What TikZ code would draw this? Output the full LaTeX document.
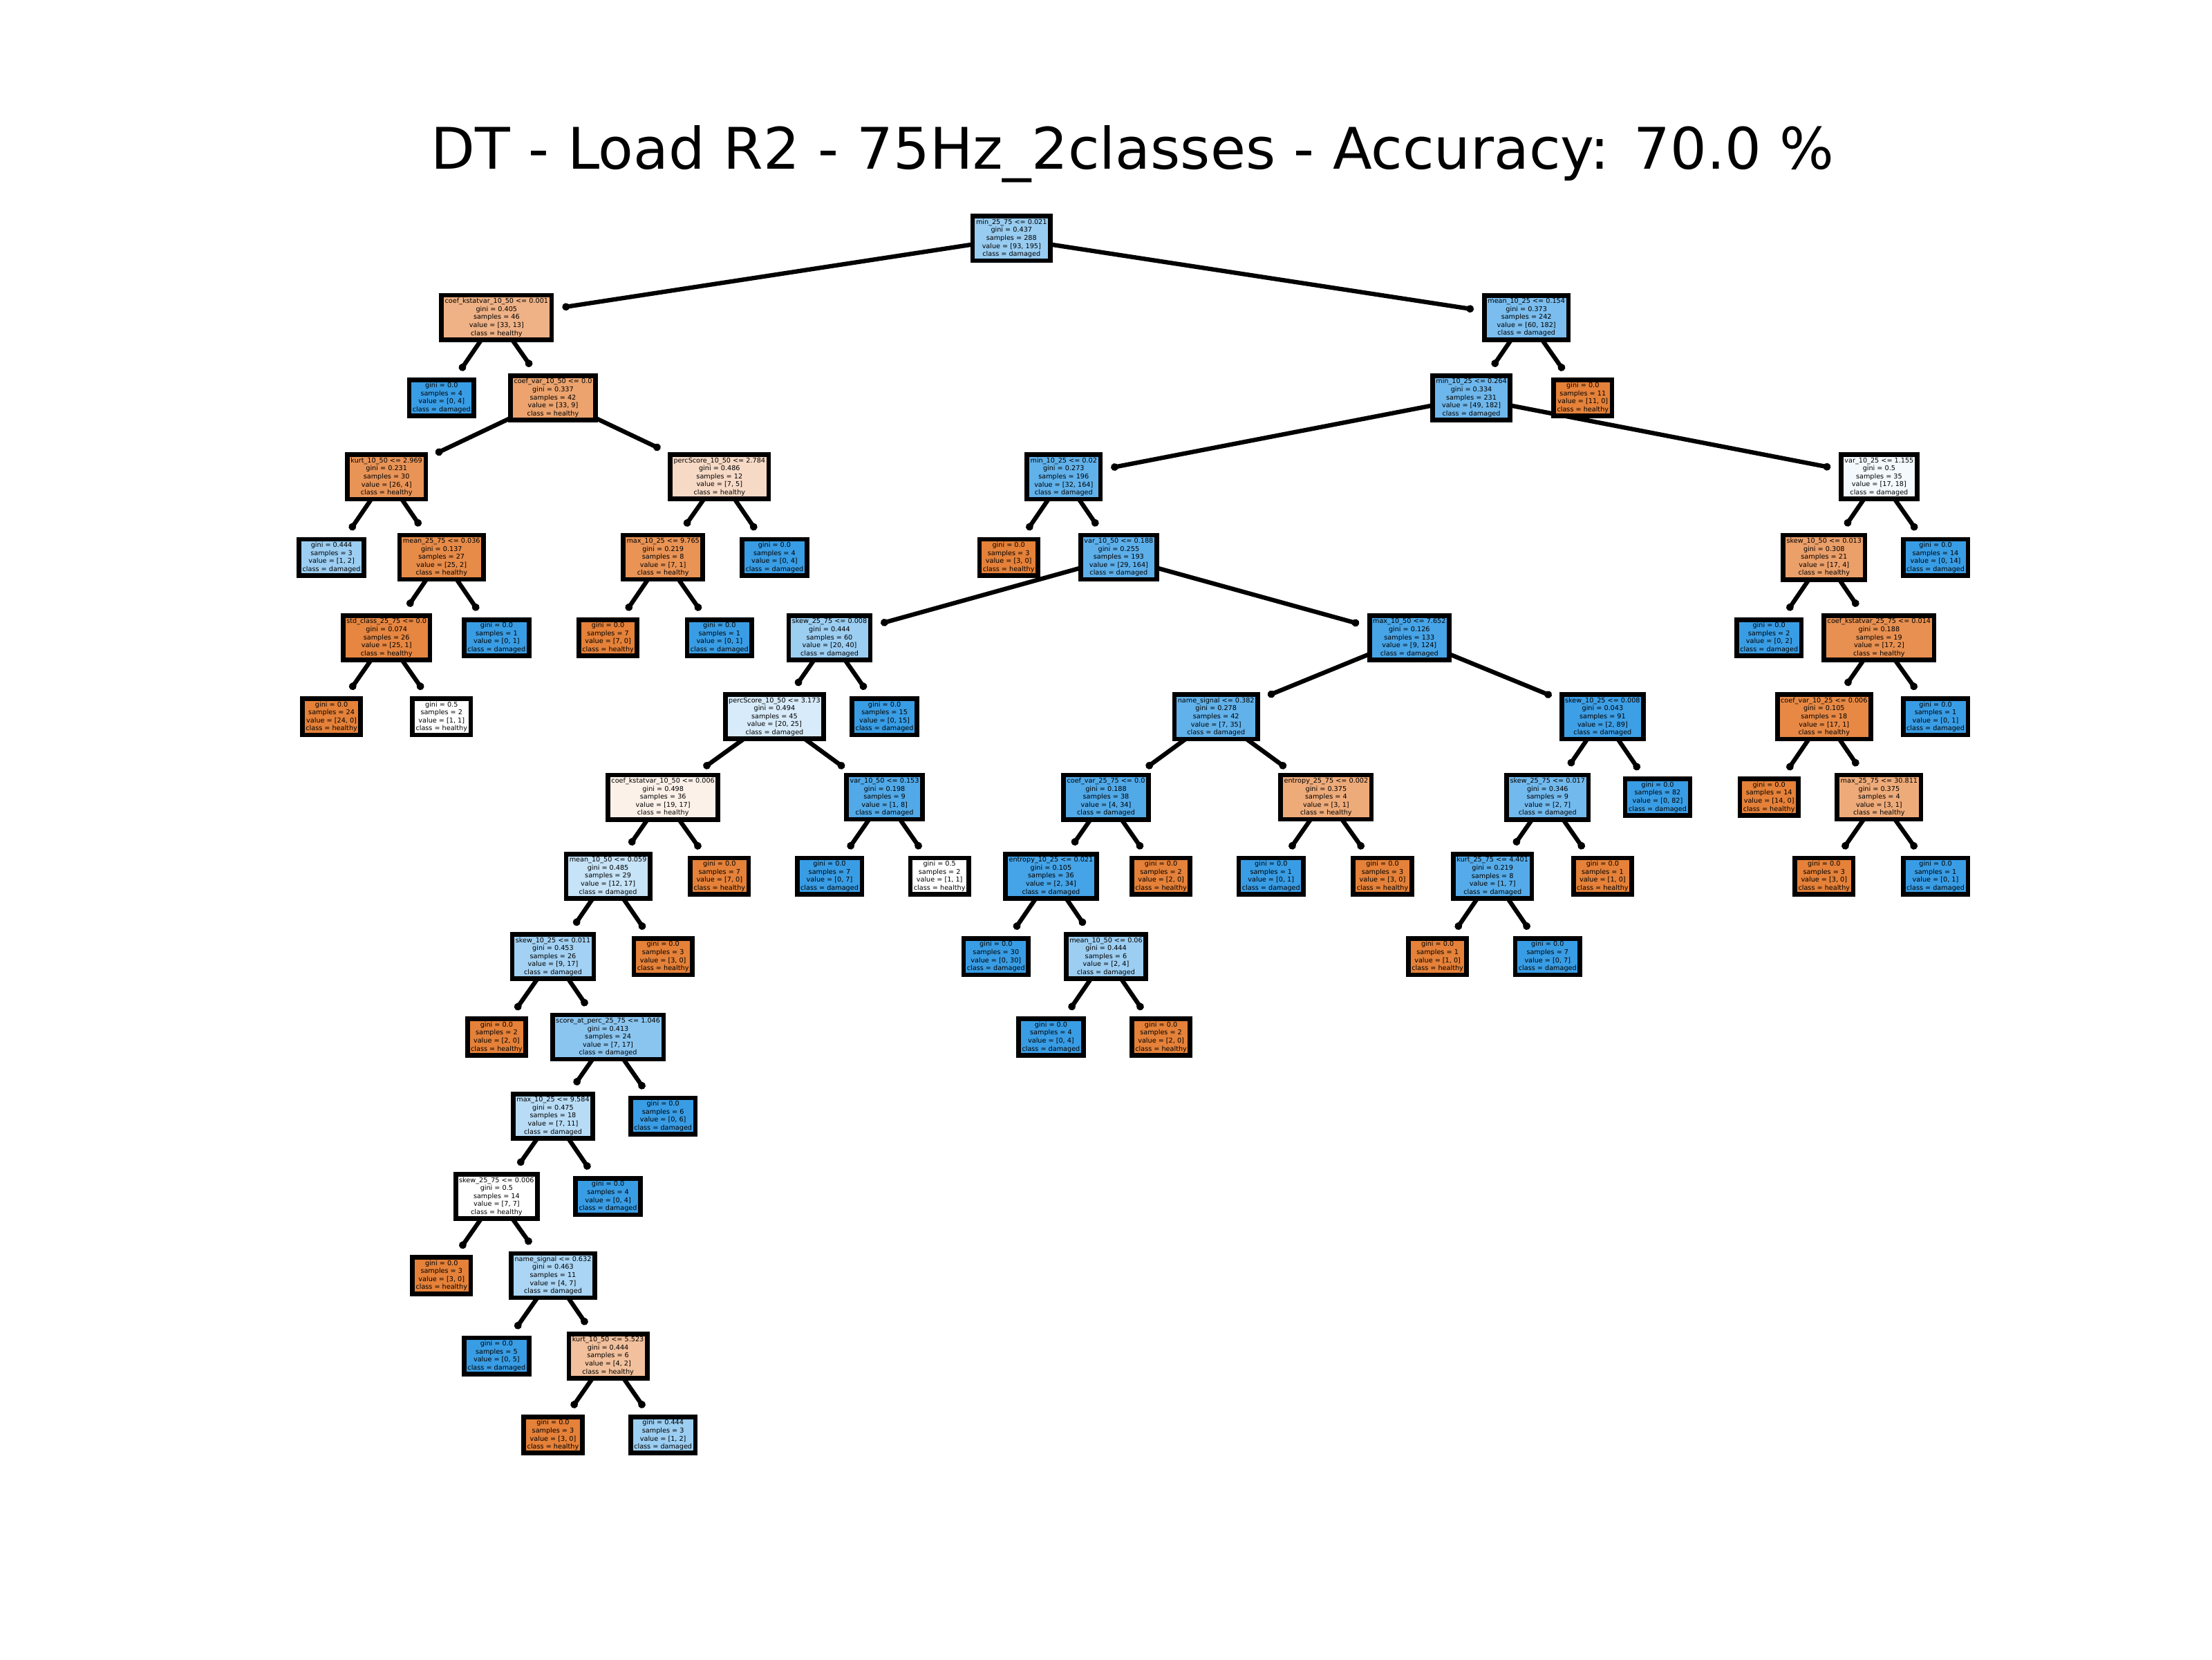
\documentclass[tikz,border=0pt]{standalone}
\usepackage{fontspec}
\setmainfont{DejaVu Sans}
\usetikzlibrary{arrows.meta,backgrounds}
\definecolor{healthy}{HTML}{E58139}
\definecolor{damaged}{HTML}{399DE5}
\begin{document}
\begin{tikzpicture}[x=0.204082mm,y=-0.204082mm,
	tn/.style={draw,line width=1.9pt,line join=miter,inner xsep=1.4pt,inner ysep=1.2pt,align=center,font=\fontsize{2.75}{3.3}\selectfont},
	link/.style={line width=1.8pt,line cap=round,-{Circle[length=3pt]},shorten >=3.5pt}]
	\useasboundingbox (0,0) rectangle (1568,1176);
	\node[anchor=base,font=\fontsize{23.6}{28}\selectfont] (title) at (803,120) {DT - Load R2 - 75Hz\_2classes - Accuracy: 70.0 \%};
	% left part of the tree
	\node[tn,fill=damaged!52] (n0) at (717,169) {min\_25\_75 <= 0.021\\gini = 0.437\\samples = 288\\value = [93, 195]\\class = damaged};
	\node[tn,fill=healthy!61] (n1) at (352,225) {coef\_kstatvar\_10\_50 <= 0.001\\gini = 0.405\\samples = 46\\value = [33, 13]\\class = healthy};
	\node[tn,fill=damaged] (n2) at (313,282) {gini = 0.0\\samples = 4\\value = [0, 4]\\class = damaged};
	\node[tn,fill=healthy!73] (n3) at (392,282) {coef\_var\_10\_50 <= 0.0\\gini = 0.337\\samples = 42\\value = [33, 9]\\class = healthy};
	\node[tn,fill=healthy!85] (n4) at (274,338) {kurt\_10\_50 <= 2.969\\gini = 0.231\\samples = 30\\value = [26, 4]\\class = healthy};
	\node[tn,fill=damaged!50] (n5) at (235,395) {gini = 0.444\\samples = 3\\value = [1, 2]\\class = damaged};
	\node[tn,fill=healthy!92] (n6) at (313,395) {mean\_25\_75 <= 0.036\\gini = 0.137\\samples = 27\\value = [25, 2]\\class = healthy};
	\node[tn,fill=healthy!96] (n7) at (274,452) {std\_class\_25\_75 <= 0.0\\gini = 0.074\\samples = 26\\value = [25, 1]\\class = healthy};
	\node[tn,fill=healthy] (n8) at (235,508) {gini = 0.0\\samples = 24\\value = [24, 0]\\class = healthy};
	\node[tn,fill=white] (n9) at (313,508) {gini = 0.5\\samples = 2\\value = [1, 1]\\class = healthy};
	\node[tn,fill=damaged] (n10) at (352,452) {gini = 0.0\\samples = 1\\value = [0, 1]\\class = damaged};
	\node[tn,fill=healthy!29] (n11) at (510,338) {percScore\_10\_50 <= 2.784\\gini = 0.486\\samples = 12\\value = [7, 5]\\class = healthy};
	\node[tn,fill=healthy!86] (n12) at (470,395) {max\_10\_25 <= 9.765\\gini = 0.219\\samples = 8\\value = [7, 1]\\class = healthy};
	\node[tn,fill=healthy] (n13) at (431,452) {gini = 0.0\\samples = 7\\value = [7, 0]\\class = healthy};
	\node[tn,fill=damaged] (n14) at (510,452) {gini = 0.0\\samples = 1\\value = [0, 1]\\class = damaged};
	\node[tn,fill=damaged] (n15) at (549,395) {gini = 0.0\\samples = 4\\value = [0, 4]\\class = damaged};
	% right part of the tree
	\node[tn,fill=damaged!67] (n16) at (1082,225) {mean\_10\_25 <= 0.154\\gini = 0.373\\samples = 242\\value = [60, 182]\\class = damaged};
	\node[tn,fill=damaged!73] (n17) at (1043,282) {min\_10\_25 <= 0.264\\gini = 0.334\\samples = 231\\value = [49, 182]\\class = damaged};
	\node[tn,fill=damaged!80] (n18) at (754,338) {min\_10\_25 <= 0.02\\gini = 0.273\\samples = 196\\value = [32, 164]\\class = damaged};
	\node[tn,fill=healthy] (n19) at (715,395) {gini = 0.0\\samples = 3\\value = [3, 0]\\class = healthy};
	\node[tn,fill=damaged!82] (n20) at (793,395) {var\_10\_50 <= 0.188\\gini = 0.255\\samples = 193\\value = [29, 164]\\class = damaged};
	\node[tn,fill=damaged!50] (n21) at (588,452) {skew\_25\_75 <= 0.008\\gini = 0.444\\samples = 60\\value = [20, 40]\\class = damaged};
	\node[tn,fill=damaged!20] (n22) at (549,508) {percScore\_10\_50 <= 3.173\\gini = 0.494\\samples = 45\\value = [20, 25]\\class = damaged};
	\node[tn,fill=healthy!11] (n23) at (470,565) {coef\_kstatvar\_10\_50 <= 0.006\\gini = 0.498\\samples = 36\\value = [19, 17]\\class = healthy};
	\node[tn,fill=damaged!29] (n24) at (431,621) {mean\_10\_50 <= 0.059\\gini = 0.485\\samples = 29\\value = [12, 17]\\class = damaged};
	\node[tn,fill=damaged!47] (n25) at (392,678) {skew\_10\_25 <= 0.011\\gini = 0.453\\samples = 26\\value = [9, 17]\\class = damaged};
	\node[tn,fill=healthy] (n26) at (352,735) {gini = 0.0\\samples = 2\\value = [2, 0]\\class = healthy};
	\node[tn,fill=damaged!59] (n27) at (431,735) {score\_at\_perc\_25\_75 <= 1.046\\gini = 0.413\\samples = 24\\value = [7, 17]\\class = damaged};
	\node[tn,fill=damaged!36] (n28) at (392,791) {max\_10\_25 <= 9.584\\gini = 0.475\\samples = 18\\value = [7, 11]\\class = damaged};
	\node[tn,fill=white] (n29) at (352,848) {skew\_25\_75 <= 0.006\\gini = 0.5\\samples = 14\\value = [7, 7]\\class = healthy};
	\node[tn,fill=healthy] (n30) at (313,904) {gini = 0.0\\samples = 3\\value = [3, 0]\\class = healthy};
	\node[tn,fill=damaged!43] (n31) at (392,904) {name\_signal <= 0.632\\gini = 0.463\\samples = 11\\value = [4, 7]\\class = damaged};
	\node[tn,fill=damaged] (n32) at (352,961) {gini = 0.0\\samples = 5\\value = [0, 5]\\class = damaged};
	\node[tn,fill=healthy!50] (n33) at (431,961) {kurt\_10\_50 <= 5.523\\gini = 0.444\\samples = 6\\value = [4, 2]\\class = healthy};
	\node[tn,fill=healthy] (n34) at (392,1017) {gini = 0.0\\samples = 3\\value = [3, 0]\\class = healthy};
	\node[tn,fill=damaged!50] (n35) at (470,1017) {gini = 0.444\\samples = 3\\value = [1, 2]\\class = damaged};
	\node[tn,fill=damaged] (n36) at (431,848) {gini = 0.0\\samples = 4\\value = [0, 4]\\class = damaged};
	\node[tn,fill=damaged] (n37) at (470,791) {gini = 0.0\\samples = 6\\value = [0, 6]\\class = damaged};
	\node[tn,fill=healthy] (n38) at (470,678) {gini = 0.0\\samples = 3\\value = [3, 0]\\class = healthy};
	\node[tn,fill=healthy] (n39) at (510,621) {gini = 0.0\\samples = 7\\value = [7, 0]\\class = healthy};
	\node[tn,fill=damaged!88] (n40) at (627,565) {var\_10\_50 <= 0.153\\gini = 0.198\\samples = 9\\value = [1, 8]\\class = damaged};
	\node[tn,fill=damaged] (n41) at (588,621) {gini = 0.0\\samples = 7\\value = [0, 7]\\class = damaged};
	\node[tn,fill=white] (n42) at (666,621) {gini = 0.5\\samples = 2\\value = [1, 1]\\class = healthy};
	\node[tn,fill=damaged] (n43) at (627,508) {gini = 0.0\\samples = 15\\value = [0, 15]\\class = damaged};
	\node[tn,fill=damaged!93] (n44) at (999,452) {max\_10\_50 <= 7.652\\gini = 0.126\\samples = 133\\value = [9, 124]\\class = damaged};
	\node[tn,fill=damaged!80] (n45) at (862,508) {name\_signal <= 0.382\\gini = 0.278\\samples = 42\\value = [7, 35]\\class = damaged};
	\node[tn,fill=damaged!88] (n46) at (784,565) {coef\_var\_25\_75 <= 0.0\\gini = 0.188\\samples = 38\\value = [4, 34]\\class = damaged};
	\node[tn,fill=damaged!94] (n47) at (745,621) {entropy\_10\_25 <= 0.021\\gini = 0.105\\samples = 36\\value = [2, 34]\\class = damaged};
	\node[tn,fill=damaged] (n48) at (706,678) {gini = 0.0\\samples = 30\\value = [0, 30]\\class = damaged};
	\node[tn,fill=damaged!50] (n49) at (784,678) {mean\_10\_50 <= 0.06\\gini = 0.444\\samples = 6\\value = [2, 4]\\class = damaged};
	\node[tn,fill=damaged] (n50) at (745,735) {gini = 0.0\\samples = 4\\value = [0, 4]\\class = damaged};
	\node[tn,fill=healthy] (n51) at (823,735) {gini = 0.0\\samples = 2\\value = [2, 0]\\class = healthy};
	\node[tn,fill=healthy] (n52) at (823,621) {gini = 0.0\\samples = 2\\value = [2, 0]\\class = healthy};
	\node[tn,fill=healthy!67] (n53) at (940,565) {entropy\_25\_75 <= 0.002\\gini = 0.375\\samples = 4\\value = [3, 1]\\class = healthy};
	\node[tn,fill=damaged] (n54) at (901,621) {gini = 0.0\\samples = 1\\value = [0, 1]\\class = damaged};
	\node[tn,fill=healthy] (n55) at (980,621) {gini = 0.0\\samples = 3\\value = [3, 0]\\class = healthy};
	\node[tn,fill=damaged!98] (n56) at (1136,508) {skew\_10\_25 <= 0.008\\gini = 0.043\\samples = 91\\value = [2, 89]\\class = damaged};
	\node[tn,fill=damaged!71] (n57) at (1097,565) {skew\_25\_75 <= 0.017\\gini = 0.346\\samples = 9\\value = [2, 7]\\class = damaged};
	\node[tn,fill=damaged!86] (n58) at (1058,621) {kurt\_25\_75 <= 4.401\\gini = 0.219\\samples = 8\\value = [1, 7]\\class = damaged};
	\node[tn,fill=healthy] (n59) at (1019,678) {gini = 0.0\\samples = 1\\value = [1, 0]\\class = healthy};
	\node[tn,fill=damaged] (n60) at (1097,678) {gini = 0.0\\samples = 7\\value = [0, 7]\\class = damaged};
	\node[tn,fill=healthy] (n61) at (1136,621) {gini = 0.0\\samples = 1\\value = [1, 0]\\class = healthy};
	\node[tn,fill=damaged] (n62) at (1175,565) {gini = 0.0\\samples = 82\\value = [0, 82]\\class = damaged};
	\node[tn,fill=damaged!6] (n63) at (1332,338) {var\_10\_25 <= 1.155\\gini = 0.5\\samples = 35\\value = [17, 18]\\class = damaged};
	\node[tn,fill=healthy!76] (n64) at (1293,395) {skew\_10\_50 <= 0.013\\gini = 0.308\\samples = 21\\value = [17, 4]\\class = healthy};
	\node[tn,fill=damaged] (n65) at (1254,452) {gini = 0.0\\samples = 2\\value = [0, 2]\\class = damaged};
	\node[tn,fill=healthy!88] (n66) at (1332,452) {coef\_kstatvar\_25\_75 <= 0.014\\gini = 0.188\\samples = 19\\value = [17, 2]\\class = healthy};
	\node[tn,fill=healthy!94] (n67) at (1293,508) {coef\_var\_10\_25 <= 0.006\\gini = 0.105\\samples = 18\\value = [17, 1]\\class = healthy};
	\node[tn,fill=healthy] (n68) at (1254,565) {gini = 0.0\\samples = 14\\value = [14, 0]\\class = healthy};
	\node[tn,fill=healthy!67] (n69) at (1332,565) {max\_25\_75 <= 30.811\\gini = 0.375\\samples = 4\\value = [3, 1]\\class = healthy};
	\node[tn,fill=healthy] (n70) at (1293,621) {gini = 0.0\\samples = 3\\value = [3, 0]\\class = healthy};
	\node[tn,fill=damaged] (n71) at (1372,621) {gini = 0.0\\samples = 1\\value = [0, 1]\\class = damaged};
	\node[tn,fill=damaged] (n72) at (1372,508) {gini = 0.0\\samples = 1\\value = [0, 1]\\class = damaged};
	\node[tn,fill=damaged] (n73) at (1372,395) {gini = 0.0\\samples = 14\\value = [0, 14]\\class = damaged};
	\node[tn,fill=healthy] (n74) at (1122,282) {gini = 0.0\\samples = 11\\value = [11, 0]\\class = healthy};
	% connectors, under the boxes
	\begin{scope}[on background layer]
		\foreach \a/\b in {n0/n1,n0/n16,n1/n2,n1/n3,n3/n4,n3/n11,n4/n5,n4/n6,n6/n7,n6/n10,n7/n8,n7/n9,n11/n12,n11/n15,n12/n13,n12/n14,
			n16/n17,n16/n74,n17/n18,n17/n63,n18/n19,n18/n20,n20/n21,n20/n44,n21/n22,n21/n43,n22/n23,n22/n40,n23/n24,n23/n39,
			n24/n25,n24/n38,n25/n26,n25/n27,n27/n28,n27/n37,n28/n29,n28/n36,n29/n30,n29/n31,n31/n32,n31/n33,n33/n34,n33/n35,
			n40/n41,n40/n42,n44/n45,n44/n56,n45/n46,n45/n53,n46/n47,n46/n52,n47/n48,n47/n49,n49/n50,n49/n51,n53/n54,n53/n55,
			n56/n57,n56/n62,n57/n58,n57/n61,n58/n59,n58/n60,n63/n64,n63/n73,n64/n65,n64/n66,n66/n67,n66/n72,n67/n68,n67/n69,
			n69/n70,n69/n71}
			\draw[link] (\a.center) -- (\b);
	\end{scope}
\end{tikzpicture}
\end{document}
